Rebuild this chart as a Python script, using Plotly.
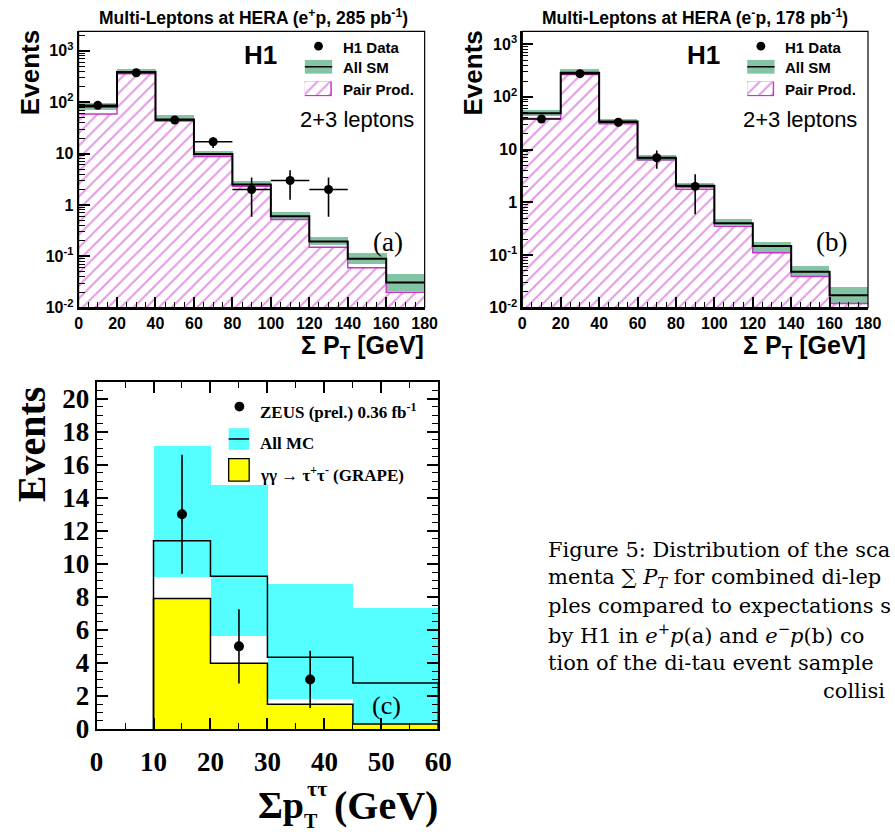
import plotly.graph_objects as go

W, H = 895, 836

# ---------------- data ----------------
edges_ab = [0, 20, 40, 60, 80, 100, 120, 140, 160, 180]

# panel (a): e+p, 285 pb-1
sm_a = [83, 390, 46, 9.8, 2.5, 0.60, 0.195, 0.090, 0.031]
sm_a_lo = [70, 345, 42, 8.8, 2.2, 0.53, 0.165, 0.070, 0.021]
sm_a_hi = [95, 435, 55, 11.2, 2.85, 0.70, 0.230, 0.112, 0.044]
pair_a = [59, 357, 43, 8.8, 2.3, 0.52, 0.150, 0.060, 0.020]
data_a_x = [10, 30, 50, 70, 90, 110, 130]
data_a_y = [87, 375, 45, 17, 2, 3, 2]
data_a_err = [9.3, 19.4, 6.7, 4.1, 1.41, 1.73, 1.41]

# panel (b): e-p, 178 pb-1
sm_b = [49, 288, 34, 7.0, 2.05, 0.40, 0.148, 0.048, 0.0172]
sm_b_lo = [43, 258, 31, 6.0, 1.80, 0.36, 0.108, 0.038, 0.012]
sm_b_hi = [55, 325, 37, 7.8, 2.25, 0.47, 0.170, 0.060, 0.024]
pair_b = [39, 264, 31, 6.4, 1.77, 0.35, 0.110, 0.039, 0.012]
data_b_x = [10, 30, 50, 70, 90]
data_b_y = [38, 276, 33, 7, 2]
data_b_err = [6.2, 16.6, 5.7, 2.65, 1.41]

# panel (c): ZEUS di-tau
edges_c = [10, 20, 30, 45, 60]
mc_c = [11.4, 9.24, 4.34, 2.78]
mc_c_lo = [9.18, 5.63, 1.82, 0.30]
mc_c_hi = [17.15, 14.77, 8.76, 7.33]
grape_c = [7.89, 3.98, 1.49, 0.30]
zeus_x = [15, 25, 37.5]
zeus_y = [13, 5, 3]
zeus_err = [3.6, 2.24, 1.73]

log_ticks = [0.01, 0.1, 1, 10, 100, 1000]
log_ticktext = ['10<sup>-2</sup>', '10<sup>-1</sup>', '1', '10', '10<sup>2</sup>', '10<sup>3</sup>']

GREEN = '#84c3a3'
MAG = '#c833c8'
CYAN = '#55ffff'
YELLOW = '#ffff00'
SANS = 'Liberation Sans'
SERIF = 'Liberation Serif'


def px(x):
    return x / W


def py(y):
    return 1 - y / H


def centers(e):
    return [(e[i] + e[i + 1]) / 2 for i in range(len(e) - 1)]


def widths(e):
    return [e[i + 1] - e[i] for i in range(len(e) - 1)]


HATCH = dict(shape='/', fgcolor=MAG, bgcolor='white', size=9, solidity=0.22)

fig = go.Figure()


def add_ml_panel(xa, ya, sm, lo, hi, pair, dx, dy, derr):
    c = centers(edges_ab)
    w = widths(edges_ab)
    fig.add_trace(go.Bar(x=c, y=pair, width=w, xaxis=xa, yaxis=ya,
                         marker=dict(color='white', line=dict(width=0), pattern=HATCH),
                         showlegend=False, hoverinfo='skip'))
    fig.add_trace(go.Bar(x=c, y=[h - l for h, l in zip(hi, lo)], base=lo, width=w,
                         xaxis=xa, yaxis=ya, marker=dict(color=GREEN, line=dict(width=0)),
                         showlegend=False, hoverinfo='skip'))
    fig.add_trace(go.Scatter(x=edges_ab, y=pair + [pair[-1]], mode='lines', line_shape='hv',
                             line=dict(color=MAG, width=1.4), xaxis=xa, yaxis=ya,
                             showlegend=False, hoverinfo='skip'))
    fig.add_trace(go.Scatter(x=edges_ab, y=sm + [sm[-1]], mode='lines', line_shape='hv',
                             line=dict(color='black', width=2), xaxis=xa, yaxis=ya,
                             showlegend=False, hoverinfo='skip'))
    fig.add_trace(go.Scatter(x=dx, y=dy, mode='markers', xaxis=xa, yaxis=ya,
                             marker=dict(color='black', size=9),
                             error_y=dict(type='data', array=derr, color='black', thickness=1.6, width=0),
                             error_x=dict(type='constant', value=10, color='black', thickness=1.6, width=0),
                             showlegend=False, hoverinfo='skip'))


add_ml_panel('x', 'y', sm_a, sm_a_lo, sm_a_hi, pair_a, data_a_x, data_a_y, data_a_err)
add_ml_panel('x2', 'y2', sm_b, sm_b_lo, sm_b_hi, pair_b, data_b_x, data_b_y, data_b_err)

# panel (c)
cc = centers(edges_c)
wc = widths(edges_c)
fig.add_trace(go.Bar(x=cc, y=[h - l for h, l in zip(mc_c_hi, mc_c_lo)], base=mc_c_lo, width=wc,
                     xaxis='x3', yaxis='y3', marker=dict(color=CYAN, line=dict(width=0)),
                     showlegend=False, hoverinfo='skip'))
fig.add_trace(go.Bar(x=cc, y=grape_c, width=wc, xaxis='x3', yaxis='y3',
                     marker=dict(color=YELLOW, line=dict(width=0)),
                     showlegend=False, hoverinfo='skip'))
fig.add_trace(go.Scatter(x=[edges_c[0]] + edges_c + [edges_c[-1]],
                         y=[0] + grape_c + [grape_c[-1], 0], mode='lines', line_shape='hv',
                         line=dict(color='black', width=1.5), xaxis='x3', yaxis='y3',
                         showlegend=False, hoverinfo='skip'))
fig.add_trace(go.Scatter(x=[edges_c[0]] + edges_c + [edges_c[-1]],
                         y=[0] + mc_c + [mc_c[-1], 0], mode='lines', line_shape='hv',
                         line=dict(color='black', width=1.5), xaxis='x3', yaxis='y3',
                         showlegend=False, hoverinfo='skip'))
fig.add_trace(go.Scatter(x=zeus_x, y=zeus_y, mode='markers', xaxis='x3', yaxis='y3',
                         marker=dict(color='black', size=10),
                         error_y=dict(type='data', array=zeus_err, color='black', thickness=1.6, width=0),
                         showlegend=False, hoverinfo='skip'))

# hatched legend boxes on tiny axes
for xa, ya in (('x4', 'y4'), ('x5', 'y5')):
    fig.add_trace(go.Bar(x=[0], y=[1], width=[1], xaxis=xa, yaxis=ya,
                         marker=dict(color='white', line=dict(color=MAG, width=1.5), pattern=HATCH),
                         showlegend=False, hoverinfo='skip'))

# ---------------- axes ----------------
minor_log = [m * 10 ** e for e in range(-2, 4) for m in range(2, 10)]

ab_x = dict(range=[0, 180], showline=True, linewidth=2, linecolor='black', ticks='inside',
            ticklen=11, tickwidth=1.5, tickcolor='black', tickmode='linear', tick0=0, dtick=20,
            minor=dict(ticks='inside', ticklen=6, tickwidth=1.2, tickcolor='black', dtick=5, tick0=0),
            showgrid=False, zeroline=False,
            tickfont=dict(family=SANS, size=16, color='black', weight='bold'))


def ab_y(top):
    return dict(type='log', range=[-2, top], showline=True, linewidth=2, linecolor='black',
                ticks='inside', ticklen=11, tickwidth=1.5, tickcolor='black',
                tickmode='array', tickvals=log_ticks, ticktext=log_ticktext,
                minor=dict(ticks='inside', ticklen=6, tickwidth=1.2, tickcolor='black',
                           tickmode='array', tickvals=minor_log),
                showgrid=False, zeroline=False,
                tickfont=dict(family=SANS, size=16, color='black', weight='bold'))


ya_dom = [py(313.3), py(32)]
fig.update_layout(
    xaxis=dict(domain=[px(73.3), px(427.7)], anchor='y', **ab_x),
    yaxis=dict(domain=ya_dom, anchor='x', **ab_y(3.379)),
    xaxis2=dict(domain=[px(527.7), px(881.7)], anchor='y2', **ab_x),
    yaxis2=dict(domain=ya_dom, anchor='x2', **ab_y(3.242)),
    xaxis3=dict(domain=[px(91.7), px(441.7)], anchor='y3', range=[0, 60], showline=True,
                linewidth=2, linecolor='black', mirror='allticks', ticks='inside', ticklen=11,
                tickwidth=1.5, tickcolor='black', tickmode='linear', tick0=0, dtick=10,
                minor=dict(ticks='inside', ticklen=6, tickwidth=1.2, tickcolor='black', dtick=5),
                showgrid=False, zeroline=False, ticklabelstandoff=8,
                tickfont=dict(family=SERIF, size=27, color='black', weight='bold')),
    yaxis3=dict(domain=[py(742.3), py(389)], anchor='x3', range=[0, 21], showline=True,
                linewidth=2, linecolor='black', mirror='allticks', ticks='inside', ticklen=11,
                tickwidth=1.5, tickcolor='black', tickmode='linear', tick0=0, dtick=2,
                minor=dict(ticks='inside', ticklen=6, tickwidth=1.2, tickcolor='black', dtick=0.5),
                showgrid=False, zeroline=False,
                tickfont=dict(family=SERIF, size=27, color='black', weight='bold')),
    xaxis4=dict(domain=[px(305), px(333)], anchor='y4', range=[-0.5, 0.5], visible=False),
    yaxis4=dict(domain=[py(98), py(83)], anchor='x4', range=[0, 1], visible=False),
    xaxis5=dict(domain=[px(758), px(786)], anchor='y5', range=[-0.5, 0.5], visible=False),
    yaxis5=dict(domain=[py(98), py(83)], anchor='x5', range=[0, 1], visible=False),
    barmode='overlay', bargap=0,
    width=W, height=H, margin=dict(l=0, r=0, t=0, b=0),
    paper_bgcolor='white', plot_bgcolor='white', showlegend=False,
)

# ---------------- shapes ----------------
shapes = []
for xr, yr in (('x', 'y'), ('x2', 'y2')):
    shapes.append(dict(type='rect', xref=f'{xr} domain', yref=f'{yr} domain', x0=0, x1=1, y0=0, y1=1,
                       line=dict(color='black', width=1.2), layer='above'))


def circle(cx, cy, r):
    return dict(type='circle', xref='paper', yref='paper', x0=px(cx - r), x1=px(cx + r),
                y0=py(cy + r), y1=py(cy - r), fillcolor='black', line=dict(color='black', width=0))


def box(x0, x1, y0, y1, fill, lc=None, lw=0):
    return dict(type='rect', xref='paper', yref='paper', x0=px(x0), x1=px(x1), y0=py(y1), y1=py(y0),
                fillcolor=fill, line=dict(color=lc or fill, width=lw))


def hline(x0, x1, y, w=1.5):
    return dict(type='line', xref='paper', yref='paper', x0=px(x0), x1=px(x1), y0=py(y), y1=py(y),
                line=dict(color='black', width=w))


# legend (a)
shapes += [circle(319, 47, 4.5), box(305, 333, 61, 75, GREEN), hline(305, 333, 68)]
# legend (b)
shapes += [circle(772, 47, 4.5), box(758, 786, 61, 75, GREEN), hline(758, 786, 68)]
# legend (c)
shapes += [circle(238, 414, 5), box(227, 248, 436, 458, CYAN), hline(227, 248, 447),
           box(227, 248, 467, 490, YELLOW, 'black', 1.3)]
fig.update_layout(shapes=shapes)

# ---------------- text ----------------
anns = []


def ann(text, x, y, size, family=SANS, xanchor='center', yanchor='middle', bold=False, angle=0):
    anns.append(dict(text=text, x=px(x), y=py(y), xref='paper', yref='paper', showarrow=False,
                     xanchor=xanchor, yanchor=yanchor, textangle=angle,
                     font=dict(family=family, size=size, color='black',
                               weight='bold' if bold else 'normal')))


# panel (a)
ann('Multi-Leptons at HERA (e<sup>+</sup>p, 285 pb<sup>-1</sup>)', 252, 17, 17.5, bold=True)
ann('H1', 260, 56, 26, bold=True)
ann('H1 Data', 342, 48, 15, xanchor='left', bold=True)
ann('All SM', 342, 69, 15, xanchor='left', bold=True)
ann('Pair Prod.', 342, 91, 15, xanchor='left', bold=True)
ann('2+3 leptons', 358, 122, 22)
ann('(a)', 390, 246, 27, family=SERIF)
ann('Events', 23, 74, 26, bold=True, angle=-90)
ann('Σ P<sub>T</sub> [GeV]', 429, 353, 25, xanchor='right', bold=True)

# panel (b)
ann('Multi-Leptons at HERA (e<sup>-</sup>p, 178 pb<sup>-1</sup>)', 705, 17, 17.5, bold=True)
ann('H1', 713, 56, 26, bold=True)
ann('H1 Data', 795, 48, 15, xanchor='left', bold=True)
ann('All SM', 795, 69, 15, xanchor='left', bold=True)
ann('Pair Prod.', 795, 91, 15, xanchor='left', bold=True)
ann('2+3 leptons', 812, 122, 22)
ann('(b)', 844, 246, 27, family=SERIF)
ann('Events', 477, 74, 26, bold=True, angle=-90)
ann('Σ P<sub>T</sub> [GeV]', 882, 353, 25, xanchor='right', bold=True)

# panel (c)
ann('ZEUS (prel.) 0.36 fb<sup>-1</sup>', 257, 419, 17, family=SERIF, xanchor='left', bold=True)
ann('All MC', 257, 452, 17, family=SERIF, xanchor='left', bold=True)
ann('γγ → τ<sup>+</sup>τ<sup>-</sup> (GRAPE)', 257, 483, 17, family=SERIF, xanchor='left', bold=True)
ann('(c)', 389, 718, 26, family=SERIF)
ann('Events', 25, 452, 40, family=SERIF, bold=True, angle=-90)
ann('Σp', 306, 820, 38, family=SERIF, xanchor='right', bold=True)
ann('ττ', 305, 803, 22, family=SERIF, xanchor='left', bold=True)
ann('T', 302, 836, 20, family=SERIF, xanchor='left', bold=True)
ann('(GeV)', 333, 820, 40, family=SERIF, xanchor='left', bold=True)

# caption
cap_lines = [
    ('Figure 5: Distribution of the sca', 552, 560),
    ('menta ∑ <i>P</i><sub><i>T</i></sub> for combined di-lep', 552, 589),
    ('ples compared to expectations s', 552, 617),
    ('by H1 in <i>e</i><sup>+</sup><i>p</i>(a) and <i>e</i><sup>−</sup><i>p</i>(b) co', 552, 646),
    ('tion of the di-tau event sample', 552, 675),
    ('collisi', 834, 704),
]
for t, x, y in cap_lines:
    ann(t, x, y, 21, family='DejaVu Serif', xanchor='left')

fig.update_layout(annotations=anns)
fig.write_html('out.html')
